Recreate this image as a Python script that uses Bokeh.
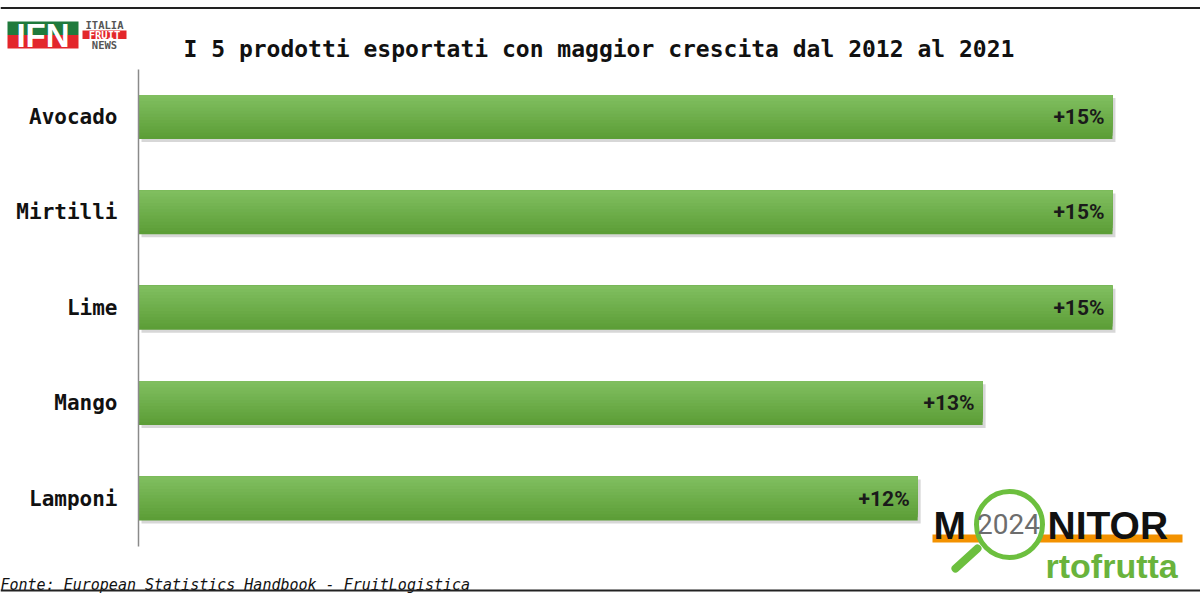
from bokeh.plotting import figure
from bokeh.models import Range1d, FixedTicker, Label, BoxAnnotation, ColumnDataSource
from bokeh.embed import file_html
from bokeh.resources import INLINE
from bokeh.core.properties import value

# ---------------- data ----------------
categories = ["Avocado", "Mirtilli", "Lime", "Mango", "Lamponi"]
growth = [15, 15, 15, 13, 12]
value_labels = [f"+{v}%" for v in growth]
title_text = "I 5 prodotti esportati con maggior crescita dal 2012 al 2021"
source_text = "Fonte: European Statistics Handbook - FruitLogistica"

# ---------------- layout constants ----------------
W, H = 1200, 600
X0 = 138            # canvas px of value 0
PX = 64.93          # px per x unit
PY = 95.375         # px per category
TOP_CENTER = 116.5  # px of first category centre
n = len(categories)
ypos = [n - 1 - i for i in range(n)]
y_end = (n - 1) + TOP_CENTER / PY
y_start = y_end - H / PY


def dx(fx):
    return (fx - X0) / PX


def dy(fy):
    return y_end - fy / PY


def sx(fx):
    return fx


def sy(fy):
    return H - fy


p = figure(width=W, height=H, x_range=Range1d(dx(0), dx(W)), y_range=Range1d(y_start, y_end),
           x_axis_location=None, output_backend="svg", toolbar_location=None,
           min_border_left=0, min_border_right=0, min_border_top=0, min_border_bottom=0,
           outline_line_color=None, background_fill_color="white", border_fill_color="white")
p.grid.visible = False

ax = p.yaxis[0]
ax.fixed_location = 0
ax.ticker = FixedTicker(ticks=ypos)
ax.major_label_overrides = {y: c for y, c in zip(ypos, categories)}
ax.bounds = (-0.5, n - 0.5)
ax.major_tick_line_color = None
ax.minor_tick_line_color = None
ax.major_tick_out = 0
ax.major_tick_in = 0
ax.major_label_standoff = 21
ax.axis_line_color = "#8a8a8a"
ax.axis_line_width = 1.5
ax.major_label_text_font = "DejaVu Sans Mono"
ax.major_label_text_font_size = "21px"
ax.major_label_text_font_style = "bold"
ax.major_label_text_color = "#111111"

# ---------------- bars ----------------
BH = 0.46
tops = [y + BH / 2 for y in ypos]
bots = [y - BH / 2 for y in ypos]

# shadow
sxo, syo = 3 / PX, 3 / PY
p.quad(left=sxo, right=[v + sxo for v in growth], top=[t - syo for t in tops],
       bottom=[b - syo for b in bots], fill_color="#8c8c8c", fill_alpha=0.35, line_color=None)

# vertical gradient layers
c_bot = (92, 158, 55)
c_top = (128, 190, 95)
N = 14
for k in range(N):
    t = k / (N - 1)
    col = tuple(int(round(c_bot[i] + (c_top[i] - c_bot[i]) * t)) for i in range(3))
    frac = 1 - k / N
    p.quad(left=0, right=growth, top=tops, bottom=[tp - BH * frac for tp in tops],
           fill_color="#%02x%02x%02x" % col, line_color=None)

src = ColumnDataSource(dict(y=ypos, val=growth, lab=value_labels))
p.text(x="val", y="y", text="lab", source=src, x_offset=-8, text_align="right",
       text_baseline="middle", text_font=value("Roboto"),
       text_font_size="21px", text_font_style="bold", text_color="#1a1a1a")

# ---------------- title, footer, frame lines ----------------
p.add_layout(Label(x=sx(183), y=sy(48), x_units="screen", y_units="screen", text=title_text,
                   text_font="DejaVu Sans Mono", text_font_size="23px", text_font_style="bold",
                   text_color="#111111", text_align="left", text_baseline="alphabetic"))
p.add_layout(Label(x=sx(0), y=sy(584), x_units="screen", y_units="screen", text=source_text,
                   text_font="DejaVu Sans Mono", text_font_size="15px", text_font_style="italic",
                   text_color="#111111", text_align="left", text_baseline="alphabetic"))


def sbox(l, r, t, b, color):
    p.add_layout(BoxAnnotation(left=sx(l), right=sx(r), top=sy(t), bottom=sy(b),
                               left_units="screen", right_units="screen",
                               top_units="screen", bottom_units="screen",
                               fill_color=color, fill_alpha=1, line_color=None))


sbox(0, W, 6.5, 8.5, "#222222")
sbox(0, W, 589, 591, "#222222")

# ---------------- IFN logo ----------------
sbox(7, 78, 21, 34.5, "#1f7a3c")
sbox(7, 78, 34.5, 48, "#e3262b")
sbox(82, 126, 30, 38.5, "#e3262b")
p.add_layout(Label(x=sx(42.5), y=sy(35), x_units="screen", y_units="screen", text="IFN",
                   text_font="Liberation Sans", text_font_size="33px", text_font_style="bold",
                   text_color="white", text_align="center", text_baseline="middle"))
for txt, yy, col in [("ITALIA", 24.5, "#555555"), ("FRUIT", 34.3, "white"), ("NEWS", 44.5, "#555555")]:
    p.add_layout(Label(x=sx(104), y=sy(yy), x_units="screen", y_units="screen", text=txt,
                       text_font="DejaVu Sans Mono", text_font_size="10.5px", text_font_style="bold",
                       text_color=col, text_align="center", text_baseline="middle"))

# ---------------- Monitor Ortofrutta logo ----------------
green = "#6cbf3e"
p.quad(left=dx(932), right=dx(1182), top=dy(534), bottom=dy(542), fill_color="#f39200", line_color=None)
p.segment(x0=[dx(977)], y0=[dy(548)], x1=[dx(955)], y1=[dy(568)], line_color=green,
          line_width=8, line_cap="round")
p.circle(x=[dx(1009)], y=[dy(524)], radius=33, radius_units="screen", fill_color="white",
         line_color=green, line_width=5)
p.add_layout(Label(x=sx(1008), y=sy(523), x_units="screen", y_units="screen", text="2024",
                   text_font="Roboto", text_font_size="28px",
                   text_color="#6d6d6d", text_align="center", text_baseline="middle"))
p.add_layout(Label(x=sx(933), y=sy(525), x_units="screen", y_units="screen", text="M",
                   text_font="Liberation Sans", text_font_size="39px", text_font_style="bold",
                   text_color="#111111", text_align="left", text_baseline="alphabetic"))
p.add_layout(Label(x=sx(1047), y=sy(525), x_units="screen", y_units="screen", text="NITOR",
                   text_font="Liberation Sans", text_font_size="39px", text_font_style="bold",
                   text_color="#111111", text_align="left", text_baseline="alphabetic"))
p.add_layout(Label(x=sx(1045), y=sy(565), x_units="screen", y_units="screen", text="rtofrutta",
                   text_font="Liberation Sans", text_font_size="34px", text_font_style="bold",
                   text_color="#69b33c", text_align="left", text_baseline="alphabetic"))

open("out.html", "w").write(file_html(p, INLINE))
